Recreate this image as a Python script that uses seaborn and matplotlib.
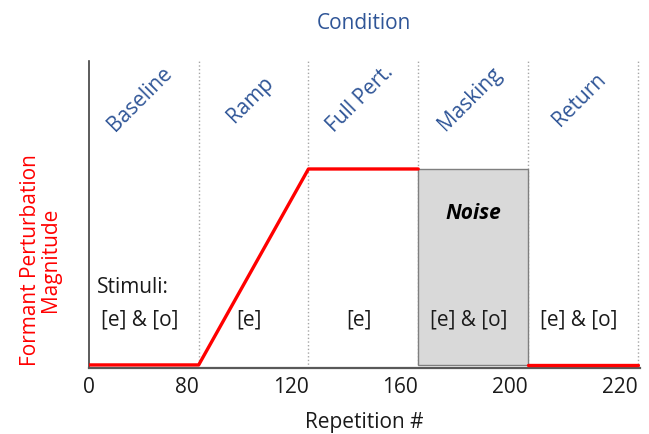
import pandas as pd
import matplotlib
matplotlib.use('Agg')
import matplotlib.pyplot as plt
import seaborn as sns

# Chart data
phases = ['Baseline', 'Ramp', 'Full Pert.', 'Masking', 'Return']
boundary_labels = ['0', '80', '120', '160', '200', '220']
stimuli = ['[e] & [o]', '[e]', '[e]', '[e] & [o]', '[e] & [o]']
# perturbation magnitude at phase boundaries (segment id separates the two pieces)
pert_x = [0, 1, 2, 3, 4, 5]
pert_y = [0, 0, 1, 1, 0, 0]
pert_seg = [0, 0, 0, 0, 1, 1]
noise_phase = 3

blue = '#2F5597'
red = '#FF0000'
txt = '#1a1a1a'
fs = 15

sns.set_style('white')
plt.rcParams['font.family'] = ['Open Sans', 'DejaVu Sans']

fig = plt.figure(figsize=(6.49, 4.35), dpi=100)
ax = fig.add_axes([0.137, 0.152, 0.849, 0.705])

# masking noise box
ax.bar(noise_phase + 0.5, 1, width=1, color='#d9d9d9', edgecolor='#7f7f7f',
       linewidth=1, zorder=2)
ax.text(noise_phase + 0.5, 0.78, 'Noise', ha='center', va='center',
        fontsize=fs, fontweight='bold', fontstyle='italic', color='black', zorder=4)

# perturbation line
df = pd.DataFrame({'x': pert_x, 'y': pert_y, 'seg': pert_seg})
sns.lineplot(data=df, x='x', y='y', units='seg', estimator=None,
             color=red, linewidth=2.4, ax=ax, zorder=3)

# phase dividers
for i in range(1, len(boundary_labels)):
    ax.axvline(i, color='#a6a6a6', linestyle=':', linewidth=1, zorder=1)

# phase names and stimuli
for i, (name, stim) in enumerate(zip(phases, stimuli)):
    ax.text(i + 0.47, 1.36, name, rotation=45, ha='center', va='center',
            fontsize=fs, color=blue)
    ax.text(i + 0.46, 0.235, stim, ha='center', va='center', fontsize=fs,
            color=txt, zorder=4)
ax.text(0.07, 0.40, 'Stimuli:', ha='left', va='center', fontsize=fs, color=txt)

ax.set_xlim(0, 5.02)
ax.set_ylim(-0.015, 1.55)
ax.set_xticks(range(len(boundary_labels)))
ax.set_xticklabels(boundary_labels, fontsize=fs, color=txt)
for k, lab in enumerate(ax.get_xticklabels()):
    lab.set_ha('center' if k == 0 else 'right')
ax.tick_params(axis='x', length=0, pad=6)
ax.set_yticks([])

ax.set_xlabel('Repetition #', fontsize=fs, color=txt, labelpad=10)
ax.set_ylabel('Formant Perturbation\nMagnitude', fontsize=fs, color=red,
              linespacing=0.95)
ax.yaxis.set_label_coords(-0.05, 0.355)
ax.set_title('Condition', fontsize=fs, color=blue, pad=24)

sns.despine(ax=ax, top=True, right=True)
ax.spines['left'].set_color('#404040')
ax.spines['left'].set_linewidth(1.2)
ax.spines['bottom'].set_color('#595959')
ax.spines['bottom'].set_linewidth(1.6)

plt.savefig('out.png', dpi=100)
plt.close()
